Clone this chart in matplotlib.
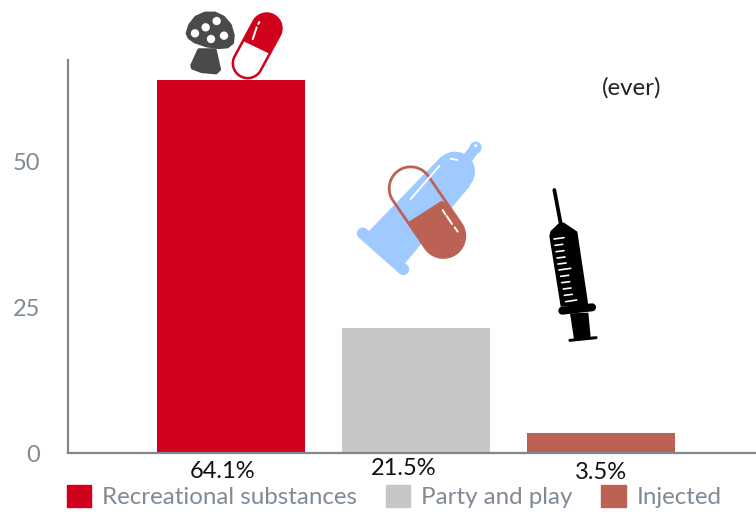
import numpy as np
import matplotlib
matplotlib.use("Agg")
import matplotlib.pyplot as plt
from matplotlib.patches import Polygon, Circle, Patch

categories = ["Recreational substances", "Party and play", "Injected"]
values = [64.1, 21.5, 3.5]
value_labels = ["64.1%", "21.5%", "3.5%"]
colors = ["#d0021b", "#c6c6c6", "#bc6254"]
yticks = [0, 25, 50]
W, H = 756, 514
GREY = "#7f8a94"
plt.rcParams["font.family"] = ["Lato", "DejaVu Sans"]

fig = plt.figure(figsize=(W / 100, H / 100), dpi=100)
ax = fig.add_axes([68 / W, 1 - 453 / H, (W - 68) / W, (453 - 60) / H])
ax.set_xlim(-0.881, 2.838)
ax.set_ylim(0, 393 / 5.82)
x = np.arange(len(values))
bars = ax.bar(x, values, width=0.80, color=colors)
for s in ("top", "right"):
    ax.spines[s].set_visible(False)
for s in ("left", "bottom"):
    ax.spines[s].set_color("#7d8790")
    ax.spines[s].set_linewidth(1.6)
ax.set_xticks([])
ax.set_yticks(yticks)
ax.tick_params(axis="y", length=0, pad=20, labelsize=17, labelcolor=GREY)
for xi, lab, ox, oy in zip(x, value_labels, (-5.8, -8.6, 0), (-13, -11.5, -13.7)):
    ax.annotate(lab, (xi, 0), xytext=(ox, oy), textcoords="offset points", ha="center",
                va="center", fontsize=17, color="#111111", annotation_clip=False)
ax.legend(handles=[Patch(color=c, label=n) for c, n in zip(colors, categories)],
          loc="lower left", bbox_to_anchor=(-1 / 688, -0.140), ncol=3, frameon=False,
          fontsize=17.4, labelcolor=GREY, handlelength=1.0, handleheight=1.05,
          handletextpad=0.45, columnspacing=1.2, borderpad=0, borderaxespad=0)

# overlay in pixel coordinates for the pictograms
ov = fig.add_axes([0, 0, 1, 1], zorder=5)
ov.set_xlim(0, W); ov.set_ylim(H, 0); ov.axis("off")
ov.text(632, 88, "(ever)", fontsize=17.3, color="#222222", ha="center", va="center")

def capsule(p1, p2, r, n=24):
    p1, p2 = np.array(p1, float), np.array(p2, float)
    a = np.arctan2(*(p2 - p1)[::-1])
    t1 = np.linspace(a + np.pi / 2, a + 3 * np.pi / 2, n)
    t2 = np.linspace(a - np.pi / 2, a + np.pi / 2, n)
    return np.vstack([p1 + r * np.c_[np.cos(t1), np.sin(t1)], p2 + r * np.c_[np.cos(t2), np.sin(t2)]])

def z1(*p): return [(150 + a / 3, b / 3) for a, b in p]
def z2(*p): return [(340 + a / 3, 130 + b / 3) for a, b in p]
def poly(pts, **k):
    k.setdefault("lw", 0)
    pa = Polygon(pts, closed=True, **k); ov.add_patch(pa); return pa
def seg(a, b, lw, c="white", cap="round"):
    ov.plot([a[0], b[0]], [a[1], b[1]], color=c, lw=lw, solid_capstyle=cap)

# mushroom
DK = "#4a4a4a"
poly(z1((112,100),(120,75),(138,52),(165,40),(195,40),(220,52),(240,75),(249,105),(247,128),(232,140),(205,142),(170,137),(135,125),(118,113)),
     fc=DK, ec=DK, lw=2.5, joinstyle="round")
poly(z1((147,150),(195,150),(208,208),(198,218),(155,214),(128,204),(126,196)),
     fc=DK, ec=DK, lw=2.5, joinstyle="round")
for (a, b) in [(135,100),(167,82),(200,63),(222,107),(183,117)]:
    ov.add_patch(Circle(z1((a, b))[0], 12.5 / 3, fc="white", lw=0))

# red capsule
RED = colors[0]
c = capsule(z1((350,85))[0], z1((293,190))[0], 14.8)
poly(c, fc="white", lw=0)
cp = poly(z1((240,20),(420,20),(420,195),(352,158),(283,125)), fc=RED)
cp.set_clip_path(Polygon(c, transform=ov.transData))
poly(c, fc="none", ec=RED, lw=1.8)
seg(*z1((328,66),(325,72)), 1.4)
seg(*z1((320,82),(308,118)), 1.4)

# condom
BL = "#9fcaff"
ov.add_patch(Circle(z2((345,125))[0], 20, fc=BL, lw=0))
poly(z2((372,72),(396,42),(418,62),(395,95),(345,125)), fc=BL)
poly(z2((303,80),(85,305),(195,400),(390,168)), fc=BL)
ov.add_patch(Circle(z2((407,53))[0], 6, fc=BL, lw=0))
poly(capsule(z2((68,310))[0], z2((190,418))[0], 5.8), fc=BL)
ov.add_patch(Circle(z2((407,47))[0], 1.5, fc="white", lw=0))
seg(*z2((332,86),(352,90)), 1.4)
seg(*z2((298,108),(212,207)), 1.4)

# brown capsule
BR = colors[2]
c2 = capsule(z2((212,175))[0], z2((310,318))[0], 21.5)
cp2 = poly(z2((160,305),(305,212),(450,300),(350,450),(200,420)), fc=BR)
cp2.set_clip_path(Polygon(c2, transform=ov.transData))
poly(c2, fc="none", ec=BR, lw=2.0)
seg(*z2((308,240),(316,253)), 1.4)
seg(*z2((320,258),(336,282)), 1.4)
seg(*z2((344,292),(353,305)), 1.4)

# syringe
seg(*z2((643,180),(662,280)), 2.7, c="black")
poly(z2((660,276),(632,303),(628,318),(662,530),(745,525),(712,305),(672,278)), fc="black")
poly(capsule(z2((667,542))[0], z2((756,532))[0], 4), fc="black")
poly(z2((690,550),(702,628),(752,622),(745,548)), fc="black")
poly(capsule(z2((690,631))[0], z2((768,623))[0], 1.5), fc="black")
for (a, b) in [((642,327),(672,323)),((645,346),(668,343)),((648,365),(672,362)),((651,384),(675,381)),
               ((654,402),(678,399)),((657,420),(692,415)),((662,439),(686,436)),((665,458),(689,455)),
               ((670,477),(693,474)),((673,496),(697,493)),((677,515),(710,510))]:
    seg(*z2(a, b), 1.2)

fig.savefig("out.png", dpi=100)
